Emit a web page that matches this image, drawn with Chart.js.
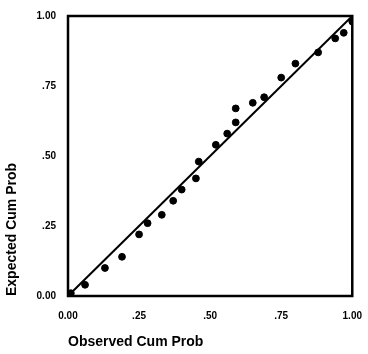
<!DOCTYPE html>
<html>
<head>
<meta charset="utf-8">
<script src="https://cdn.jsdelivr.net/npm/chart.js@4.4.1/dist/chart.umd.min.js"></script>
<style>
  html, body { margin: 0; padding: 0; background: #fff; }
  canvas { display: block; }
</style>
</head>
<body>
<canvas id="ppPlot" width="368" height="354"></canvas>
<script>
// Observed vs expected cumulative probabilities
const observedCum = [0.01, 0.06, 0.13, 0.19, 0.25, 0.28, 0.33, 0.37, 0.40, 0.45, 0.46, 0.52,
                     0.56, 0.59, 0.59, 0.65, 0.69, 0.75, 0.80, 0.88, 0.94, 0.97, 1.00];
const expectedCum = [0.01, 0.04, 0.10, 0.14, 0.22, 0.26, 0.29, 0.34, 0.38, 0.42, 0.48, 0.54,
                     0.58, 0.62, 0.67, 0.69, 0.71, 0.78, 0.83, 0.87, 0.92, 0.94, 0.98];
const refLine = [0, 1];
const tickValues = [0, 0.25, 0.5, 0.75, 1];
const tickLabels = ['0.00', '.25', '.50', '.75', '1.00'];

const points = observedCum.map(function(x, i) { return { x: x, y: expectedCum[i] }; });
const diagonal = refLine.map(function(v) { return { x: v, y: v }; });

function tickText(value) {
  const idx = tickValues.findIndex(function(t) { return Math.abs(t - value) < 1e-6; });
  return idx >= 0 ? tickLabels[idx] : '';
}

// thick frame round the plot area
const framePlugin = {
  id: 'frame',
  afterDatasetsDraw(chart) {
    const a = chart.chartArea;
    const ctx = chart.ctx;
    ctx.save();
    ctx.strokeStyle = '#000';
    ctx.lineWidth = 2.5;
    ctx.strokeRect(a.left, a.top, a.right - a.left, a.bottom - a.top);
    ctx.restore();
  }
};

const tickFont = { family: 'Liberation Sans', size: 10, weight: 'bold' };
const titleFont = { family: 'Liberation Sans', size: 14, weight: 'bold' };

new Chart(document.getElementById('ppPlot').getContext('2d'), {
  type: 'scatter',
  data: {
    datasets: [
      {
        label: 'Observed',
        data: points,
        backgroundColor: '#000',
        borderColor: '#000',
        pointRadius: 3.4,
        pointHoverRadius: 3.4
      },
      {
        type: 'line',
        label: 'Reference',
        data: diagonal,
        borderColor: '#000',
        borderWidth: 2,
        pointRadius: 0,
        fill: false
      }
    ]
  },
  options: {
    responsive: false,
    animation: false,
    layout: { padding: { left: 0, right: 13, top: 16, bottom: 0 } },
    plugins: {
      legend: { display: false },
      tooltip: { enabled: false }
    },
    scales: {
      x: {
        type: 'linear',
        min: 0,
        max: 1,
        afterFit: function(scale) { scale.height = 58; },
        afterBuildTicks: function(scale) {
          scale.ticks = tickValues.map(function(v) { return { value: v }; });
        },
        grid: { display: false },
        border: { display: false },
        ticks: {
          color: '#000',
          font: tickFont,
          padding: 6,
          maxRotation: 0,
          callback: function(value) { return tickText(value); }
        },
        title: {
          display: true,
          text: 'Observed Cum Prob',
          align: 'start',
          color: '#000',
          font: titleFont,
          padding: { top: 0, bottom: 3 }
        }
      },
      y: {
        type: 'linear',
        min: 0,
        max: 1,
        afterFit: function(scale) { scale.width = 68; },
        afterBuildTicks: function(scale) {
          scale.ticks = tickValues.map(function(v) { return { value: v }; });
        },
        grid: { display: false },
        border: { display: false },
        ticks: {
          color: '#000',
          font: tickFont,
          padding: 4,
          callback: function(value) { return tickText(value); }
        },
        title: {
          display: true,
          text: 'Expected Cum Prob',
          align: 'start',
          color: '#000',
          font: titleFont,
          padding: { top: 4, bottom: 0 }
        }
      }
    }
  },
  plugins: [framePlugin]
});
</script>
</body>
</html>
